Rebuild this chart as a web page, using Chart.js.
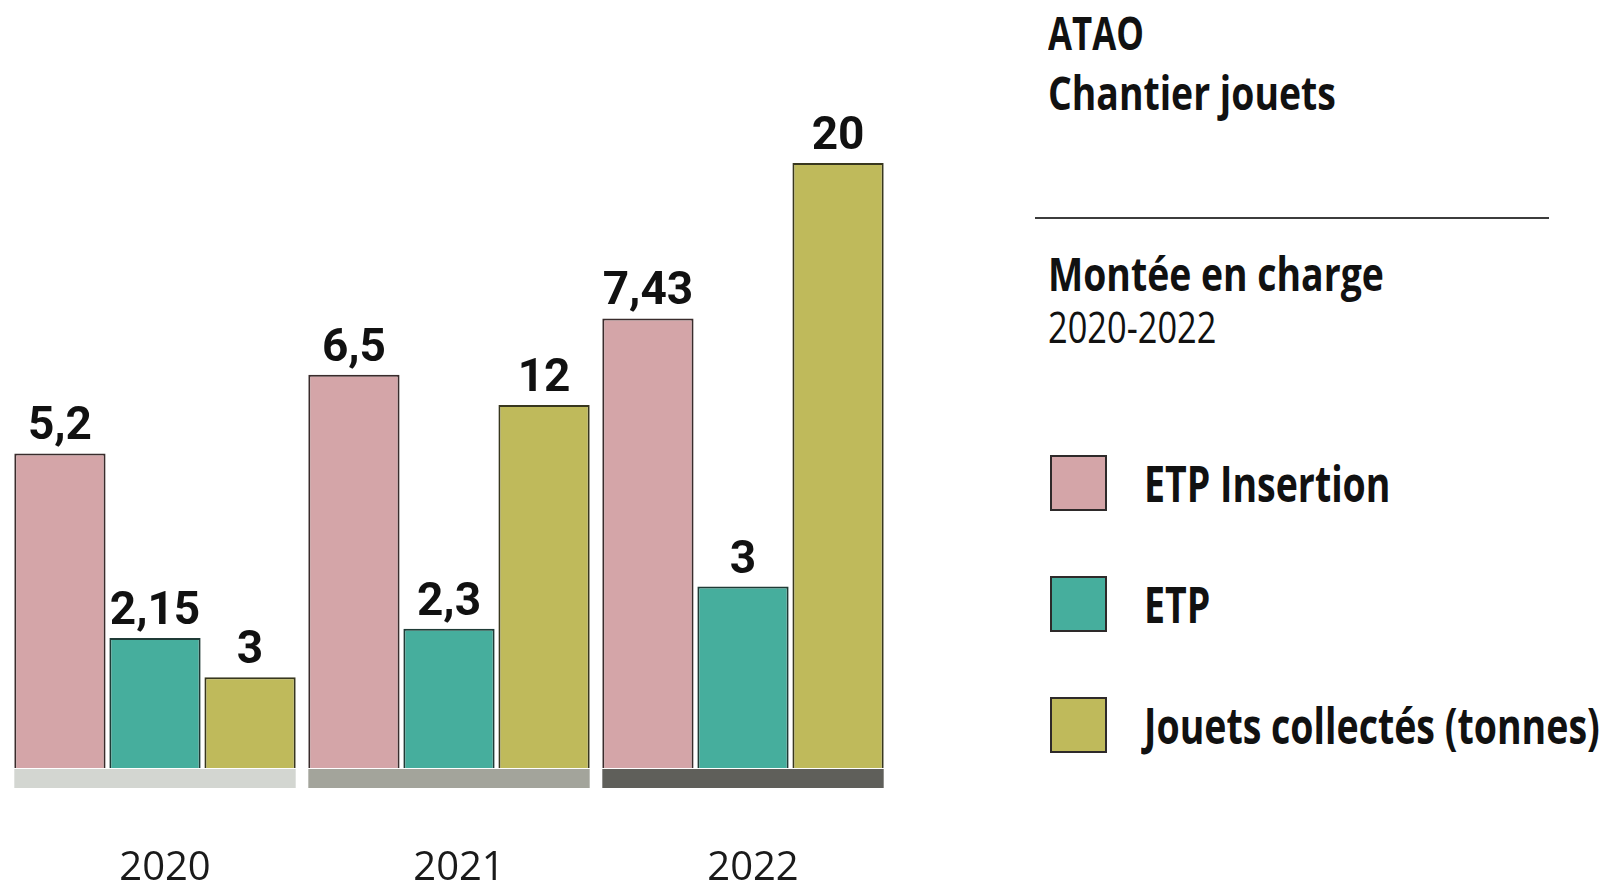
<!DOCTYPE html>
<html lang="fr">
<head>
<meta charset="utf-8">
<title>ATAO - Chantier jouets</title>
<script src="https://cdn.jsdelivr.net/npm/chart.js@4.4.1/dist/chart.umd.min.js"></script>
<style>
    html, body { margin: 0; padding: 0; background: #fff; }
    body { width: 1611px; height: 887px; position: relative; overflow: hidden; font-family: 'Open Sans', 'Noto Sans', sans-serif; color: #111; }
    .chart-box { position: absolute; left: 0; top: 0; width: 900px; height: 887px; }
    .side { position: absolute; left: 1048px; top: 0; }
    .side .t { position: absolute; left: 0; white-space: nowrap; line-height: 1; transform-origin: left top; }
    .t.title { font-weight: 700; font-size: 47px; transform: scaleX(0.74); }
    .t.title.wide { transform: scaleX(0.795); }
    .t.sub { font-weight: 400; font-size: 43px; transform: scaleX(0.8); }
    .rule { position: absolute; left: 1035px; top: 217px; width: 514px; height: 2px; background: #3c3c3c; }
    #legend { position: absolute; left: 1050px; top: 455px; }
    #legend .row { display: flex; align-items: center; height: 56px; margin-bottom: 65px; }
    #legend .box { width: 53px; height: 52px; border: 2px solid #2e2a2a; flex: none; }
    #legend .lbl { margin-left: 37px; font-weight: 700; font-size: 50px; line-height: 56px; white-space: nowrap; transform: scaleX(0.75); transform-origin: left center; }
</style>
</head>
<body>
<div class="chart-box"><canvas id="chantierChart"></canvas></div>

<div class="side">
    <div class="t title" style="top: 9px;">ATAO</div>
    <div class="t title wide" style="top: 69px;">Chantier jouets</div>
    <div class="t title wide" style="top: 250px;">Montée en charge</div>
    <div class="t sub" style="top: 305px;">2020-2022</div>
</div>
<div class="rule"></div>
<div id="legend"></div>

<script>
const years = ['2020', '2021', '2022'];
const etpInsertion = [5.2, 6.5, 7.43];
const etp = [2.15, 2.3, 3];
const jouetsTonnes = [3, 12, 20];
const seriesNames = ['ETP Insertion', 'ETP', 'Jouets collectés (tonnes)'];

const seriesColors = ['#d4a5a8', '#46ae9d', '#bfba5b'];
const borderColors = ['#3a2c2c', '#1f3b36', '#38371e'];
const bandColors = ['#d3d6d1', '#a3a49b', '#5f5f5a'];

const frNum = v => String(v).replace('.', ',');

// grey band under each year group + value above each bar
const decorPlugin = {
    id: 'decor',
    beforeDatasetsDraw(chart) {
        const { ctx, chartArea } = chart;
        const first = chart.getDatasetMeta(0).data;
        const last = chart.getDatasetMeta(chart.data.datasets.length - 1).data;
        ctx.save();
        first.forEach((bar, i) => {
            const l = bar.x - bar.width / 2;
            const r = last[i].x + last[i].width / 2;
            ctx.fillStyle = bandColors[i];
            ctx.fillRect(l, chartArea.bottom + 1, r - l, 19);
        });
        ctx.restore();
    },
    afterDatasetsDraw(chart) {
        const { ctx } = chart;
        ctx.save();
        ctx.font = '700 46px Roboto, "Liberation Sans", sans-serif';
        ctx.fillStyle = '#111';
        ctx.textAlign = 'center';
        ctx.textBaseline = 'alphabetic';
        chart.data.datasets.forEach((ds, di) => {
            chart.getDatasetMeta(di).data.forEach((bar, i) => {
                ctx.fillText(frNum(ds.data[i]), bar.x, bar.y - 14);
            });
        });
        ctx.restore();
    }
};

const chart = new Chart(document.getElementById('chantierChart'), {
    type: 'bar',
    data: {
        labels: years,
        datasets: [
            { label: seriesNames[0], data: etpInsertion, yAxisID: 'y' },
            { label: seriesNames[1], data: etp, yAxisID: 'y' },
            { label: seriesNames[2], data: jouetsTonnes, yAxisID: 'y2' }
        ].map((ds, i) => ({
            ...ds,
            backgroundColor: seriesColors[i],
            borderColor: borderColors[i],
            borderWidth: 2,
            categoryPercentage: 0.97,
            barPercentage: 0.96
        }))
    },
    options: {
        responsive: true,
        maintainAspectRatio: false,
        animation: false,
        layout: { padding: { left: 8, right: 10, top: 163, bottom: 0 } },
        plugins: {
            legend: { display: false },
            tooltip: { enabled: false }
        },
        scales: {
            x: {
                border: { display: false },
                grid: { display: false, drawTicks: false },
                ticks: {
                    padding: 77,
                    labelOffset: 10,
                    color: '#1a1a1a',
                    font: { family: 'Open Sans', size: 40 }
                },
                afterFit(scale) { scale.height = 119; }
            },
            y: { display: false, min: 0, max: 10 },
            y2: { display: false, min: 0, max: 20 }
        }
    },
    plugins: [decorPlugin]
});

// legend built from the chart's own datasets
const legendEl = document.getElementById('legend');
chart.data.datasets.forEach(ds => {
    const row = document.createElement('div');
    row.className = 'row';
    const box = document.createElement('div');
    box.className = 'box';
    box.style.background = ds.backgroundColor;
    const lbl = document.createElement('div');
    lbl.className = 'lbl';
    lbl.textContent = ds.label;
    row.appendChild(box);
    row.appendChild(lbl);
    legendEl.appendChild(row);
});
</script>
</body>
</html>
